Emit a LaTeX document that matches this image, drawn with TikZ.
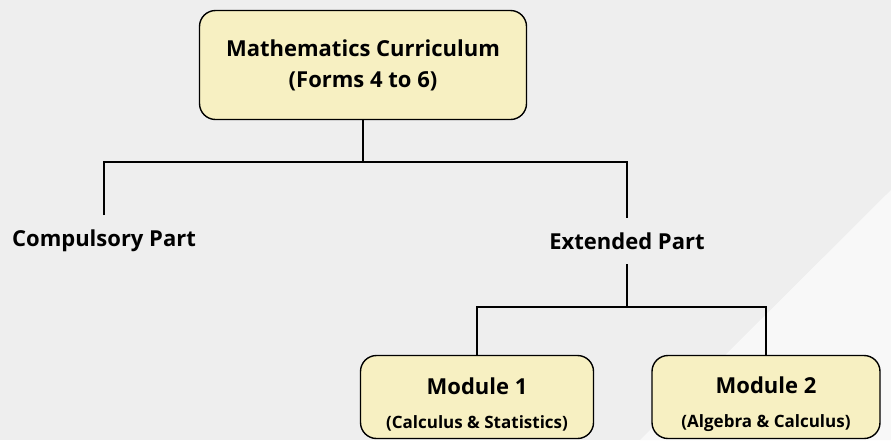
\documentclass[tikz,border=0pt]{standalone}
\usepackage{fontspec}
\setmainfont{Open Sans}
\usepackage{xcolor}
\usetikzlibrary{positioning,calc}
\definecolor{bgGrey}{HTML}{EEEEEE}
\definecolor{bgLight}{HTML}{F8F8F8}
\definecolor{boxYellow}{HTML}{F7F0C2}

\begin{document}
\begin{tikzpicture}[x=1pt,y=-1pt,
    box/.style={draw=black,line width=1.4pt,rounded corners=16pt,
      fill=boxYellow,inner sep=0pt},
    modtext/.style={align=center,inner sep=0pt,
      font=\bfseries\fontsize{22}{34}\selectfont},
    partlabel/.style={font=\bfseries\fontsize{22}{26}\selectfont,
      inner sep=0pt,outer ysep=15pt},
    link/.style={line width=1.3pt}]
  % background
  \fill[bgGrey] (0,0) rectangle (891,440);
  \fill[bgLight] (640,440) -- (891,190) -- (891,440) -- cycle;
  \useasboundingbox (0,0) rectangle (891,440);

  \node[box,minimum width=327pt,minimum height=109pt,align=center,
    font=\bfseries\fontsize{22}{31}\selectfont] (curr) at (363,65)
    {Mathematics Curriculum\\(Forms 4 to 6)};

  \node[partlabel] (comp) at (104,241) {Compulsory Part};
  \node[partlabel] (ext) at (627,241) {Extended Part};

  \node[box,minimum width=233pt,minimum height=83pt] (mod1) at (477,397) {};
  \node[box,minimum width=228pt,minimum height=83pt] (mod2) at (766,397) {};
  \node[modtext] (mod1text) at ([yshift=-7pt]mod1.center)
    {Module 1\\{\fontsize{17}{20}\selectfont (Calculus \& Statistics)}};
  \node[modtext] (mod2text) at ([yshift=-7pt]mod2.center)
    {Module 2\\{\fontsize{17}{20}\selectfont (Algebra \& Calculus)}};

  % connectors
  \coordinate (j1) at (363,162);
  \coordinate (j2) at (627,307);
  \draw[link] (curr.south) -- (j1);
  \draw[link] (comp.north) |- (j1) -| (ext.north);
  \draw[link] (ext.south) -- (j2);
  \draw[link] (mod1.north) |- (j2) -| (mod2.north);
\end{tikzpicture}
\end{document}
